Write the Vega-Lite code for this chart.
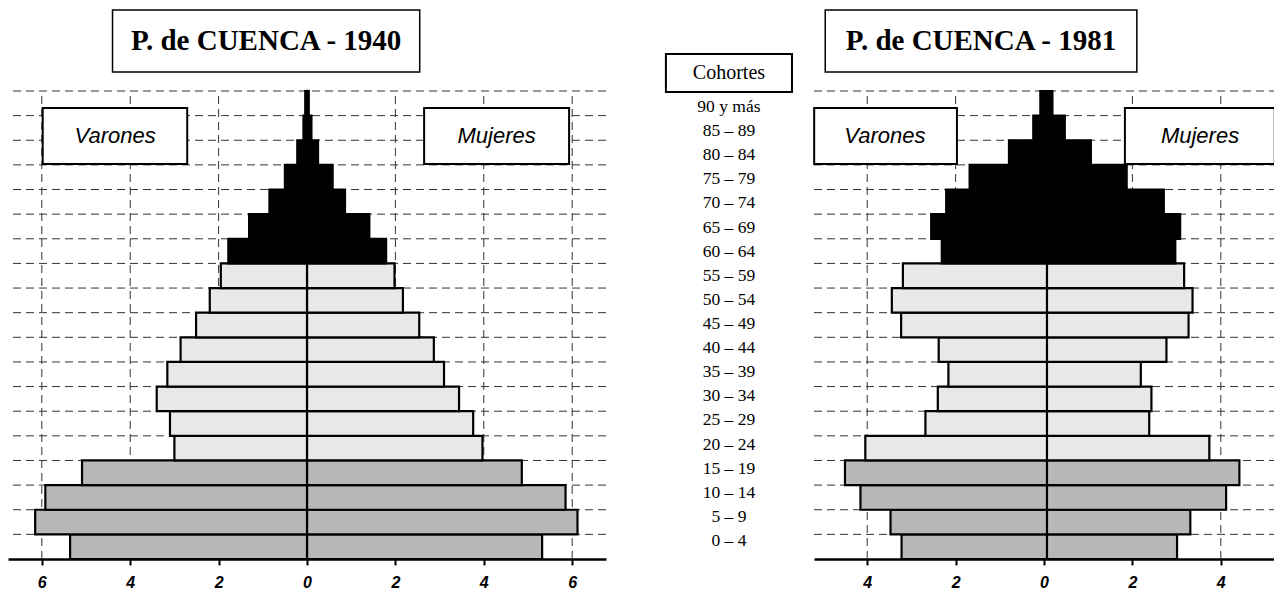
{
  "$schema": "https://vega.github.io/schema/vega-lite/v6.json",
  "background": "white",
  "padding": {"left": 7, "top": 0, "right": 0, "bottom": 0},
  "spacing": 0,
  "config": {
    "view": {"stroke": null},
    "concat": {"spacing": 0}
  },
  "datasets": {
    "p1940": [
      {"cohorte": "0 – 4", "edad_min": 0, "edad_max": 5, "grupo": "0–19", "varones": 5.36, "mujeres": 5.32},
      {"cohorte": "5 – 9", "edad_min": 5, "edad_max": 10, "grupo": "0–19", "varones": 6.15, "mujeres": 6.12},
      {"cohorte": "10 – 14", "edad_min": 10, "edad_max": 15, "grupo": "0–19", "varones": 5.92, "mujeres": 5.85},
      {"cohorte": "15 – 19", "edad_min": 15, "edad_max": 20, "grupo": "0–19", "varones": 5.09, "mujeres": 4.86},
      {"cohorte": "20 – 24", "edad_min": 20, "edad_max": 25, "grupo": "20–59", "varones": 3.0, "mujeres": 3.97},
      {"cohorte": "25 – 29", "edad_min": 25, "edad_max": 30, "grupo": "20–59", "varones": 3.1, "mujeres": 3.76},
      {"cohorte": "30 – 34", "edad_min": 30, "edad_max": 35, "grupo": "20–59", "varones": 3.4, "mujeres": 3.44},
      {"cohorte": "35 – 39", "edad_min": 35, "edad_max": 40, "grupo": "20–59", "varones": 3.16, "mujeres": 3.1},
      {"cohorte": "40 – 44", "edad_min": 40, "edad_max": 45, "grupo": "20–59", "varones": 2.86, "mujeres": 2.87},
      {"cohorte": "45 – 49", "edad_min": 45, "edad_max": 50, "grupo": "20–59", "varones": 2.51, "mujeres": 2.54},
      {"cohorte": "50 – 54", "edad_min": 50, "edad_max": 55, "grupo": "20–59", "varones": 2.2, "mujeres": 2.17},
      {"cohorte": "55 – 59", "edad_min": 55, "edad_max": 60, "grupo": "20–59", "varones": 1.95, "mujeres": 1.98},
      {"cohorte": "60 – 64", "edad_min": 60, "edad_max": 65, "grupo": "60 y más", "varones": 1.78, "mujeres": 1.79},
      {"cohorte": "65 – 69", "edad_min": 65, "edad_max": 70, "grupo": "60 y más", "varones": 1.31, "mujeres": 1.41},
      {"cohorte": "70 – 74", "edad_min": 70, "edad_max": 75, "grupo": "60 y más", "varones": 0.85, "mujeres": 0.86},
      {"cohorte": "75 – 79", "edad_min": 75, "edad_max": 80, "grupo": "60 y más", "varones": 0.5, "mujeres": 0.58},
      {"cohorte": "80 – 84", "edad_min": 80, "edad_max": 85, "grupo": "60 y más", "varones": 0.22, "mujeres": 0.25},
      {"cohorte": "85 – 89", "edad_min": 85, "edad_max": 90, "grupo": "60 y más", "varones": 0.08, "mujeres": 0.1},
      {"cohorte": "90 y más", "edad_min": 90, "edad_max": 95, "grupo": "60 y más", "varones": 0.04, "mujeres": 0.04}
    ],
    "p1981": [
      {"cohorte": "0 – 4", "edad_min": 0, "edad_max": 5, "grupo": "0–19", "varones": 3.29, "mujeres": 3.01},
      {"cohorte": "5 – 9", "edad_min": 5, "edad_max": 10, "grupo": "0–19", "varones": 3.54, "mujeres": 3.31},
      {"cohorte": "10 – 14", "edad_min": 10, "edad_max": 15, "grupo": "0–19", "varones": 4.22, "mujeres": 4.12},
      {"cohorte": "15 – 19", "edad_min": 15, "edad_max": 20, "grupo": "0–19", "varones": 4.57, "mujeres": 4.42},
      {"cohorte": "20 – 24", "edad_min": 20, "edad_max": 25, "grupo": "20–59", "varones": 4.11, "mujeres": 3.74},
      {"cohorte": "25 – 29", "edad_min": 25, "edad_max": 30, "grupo": "20–59", "varones": 2.75, "mujeres": 2.38},
      {"cohorte": "30 – 34", "edad_min": 30, "edad_max": 35, "grupo": "20–59", "varones": 2.47, "mujeres": 2.43},
      {"cohorte": "35 – 39", "edad_min": 35, "edad_max": 40, "grupo": "20–59", "varones": 2.23, "mujeres": 2.19},
      {"cohorte": "40 – 44", "edad_min": 40, "edad_max": 45, "grupo": "20–59", "varones": 2.45, "mujeres": 2.77},
      {"cohorte": "45 – 49", "edad_min": 45, "edad_max": 50, "grupo": "20–59", "varones": 3.3, "mujeres": 3.27},
      {"cohorte": "50 – 54", "edad_min": 50, "edad_max": 55, "grupo": "20–59", "varones": 3.51, "mujeres": 3.36},
      {"cohorte": "55 – 59", "edad_min": 55, "edad_max": 60, "grupo": "20–59", "varones": 3.26, "mujeres": 3.17},
      {"cohorte": "60 – 64", "edad_min": 60, "edad_max": 65, "grupo": "60 y más", "varones": 2.38, "mujeres": 2.97},
      {"cohorte": "65 – 69", "edad_min": 65, "edad_max": 70, "grupo": "60 y más", "varones": 2.62, "mujeres": 3.08},
      {"cohorte": "70 – 74", "edad_min": 70, "edad_max": 75, "grupo": "60 y más", "varones": 2.28, "mujeres": 2.71},
      {"cohorte": "75 – 79", "edad_min": 75, "edad_max": 80, "grupo": "60 y más", "varones": 1.75, "mujeres": 1.87},
      {"cohorte": "80 – 84", "edad_min": 80, "edad_max": 85, "grupo": "60 y más", "varones": 0.86, "mujeres": 1.06},
      {"cohorte": "85 – 89", "edad_min": 85, "edad_max": 90, "grupo": "60 y más", "varones": 0.31, "mujeres": 0.47},
      {"cohorte": "90 y más", "edad_min": 90, "edad_max": 95, "grupo": "60 y más", "varones": 0.15, "mujeres": 0.19}
    ]
  },
  "hconcat": [
    {
      "width": 598,
      "height": 559,
      "data": {"name": "p1940"},
      "resolve": {"scale": {"x": "independent"}},
      "layer": [
        {
          "layer": [
            {
              "mark": {"type": "rule", "color": "#333333", "strokeWidth": 1, "strokeDash": [8, 5]},
              "encoding": {
                "y": {"field": "edad_max", "type": "quantitative", "scale": {"domain": [0, 113.47], "nice": false, "zero": false}, "axis": null}
              }
            },
            {
              "data": {"values": [{"v": -6}, {"v": -4}, {"v": -2}, {"v": 2}, {"v": 4}, {"v": 6}]},
              "mark": {"type": "rule", "color": "#333333", "strokeWidth": 1, "strokeDash": [8, 5]},
              "encoding": {
                "x": {"field": "v", "type": "quantitative"},
                "y": {"datum": 0, "type": "quantitative"},
                "y2": {"datum": 95}
              }
            },
            {
              "mark": {"type": "bar", "stroke": "black", "strokeWidth": 2.2},
              "encoding": {
                "x": {
                  "field": "mujeres", "type": "quantitative",
                  "scale": {"domain": [-6.765, 6.765], "nice": false, "zero": false},
                  "axis": {
                    "values": [-6, -4, -2, 0, 2, 4, 6],
                    "labelExpr": "format(abs(datum.value), 'd')",
                    "title": null, "grid": false,
                    "domainColor": "black", "domainWidth": 2.5,
                    "tickColor": "black", "tickWidth": 2, "tickSize": 6,
                    "labelFont": "Liberation Sans", "labelFontStyle": "italic", "labelFontWeight": "bold",
                    "labelFontSize": 16, "labelColor": "black", "labelPadding": 9
                  }
                },
                "x2": {"datum": 0},
                "y": {"field": "edad_min", "type": "quantitative"},
                "y2": {"field": "edad_max"},
                "fill": {
                  "field": "grupo", "type": "nominal",
                  "scale": {"domain": ["0–19", "20–59", "60 y más"], "range": ["#b8b8b8", "#e8e8e8", "#000000"]},
                  "legend": null
                }
              }
            },
            {
              "data": {"values": [{}]},
              "mark": {"type": "rect", "fill": "white", "stroke": "black", "strokeWidth": 2},
              "encoding": {
                "x": {"datum": -5.98, "type": "quantitative"}, "x2": {"datum": -2.71},
                "y": {"datum": 91.55, "type": "quantitative"}, "y2": {"datum": 80.18}
              }
            },
            {
              "data": {"values": [{}]},
              "mark": {"type": "text", "text": "Varones", "font": "Liberation Sans", "fontStyle": "italic", "fontSize": 22, "align": "center", "baseline": "middle", "color": "black"},
              "encoding": {
                "x": {"datum": -4.34, "type": "quantitative"},
                "y": {"datum": 85.86, "type": "quantitative"}
              }
            },
            {
              "data": {"values": [{}]},
              "mark": {"type": "rect", "fill": "white", "stroke": "black", "strokeWidth": 2},
              "encoding": {
                "x": {"datum": 2.65, "type": "quantitative"}, "x2": {"datum": 5.93},
                "y": {"datum": 91.55, "type": "quantitative"}, "y2": {"datum": 80.18}
              }
            },
            {
              "data": {"values": [{}]},
              "mark": {"type": "text", "text": "Mujeres", "font": "Liberation Sans", "fontStyle": "italic", "fontSize": 22, "align": "center", "baseline": "middle", "color": "black"},
              "encoding": {
                "x": {"datum": 4.29, "type": "quantitative"},
                "y": {"datum": 85.86, "type": "quantitative"}
              }
            },
            {
              "data": {"values": [{}]},
              "mark": {"type": "rect", "fill": "white", "stroke": "black", "strokeWidth": 1.5},
              "encoding": {
                "x": {"datum": -4.4, "type": "quantitative"}, "x2": {"datum": 2.55},
                "y": {"datum": 111.44, "type": "quantitative"}, "y2": {"datum": 98.85}
              }
            },
            {
              "data": {"values": [{}]},
              "mark": {"type": "text", "text": "P. de CUENCA - 1940", "font": "Liberation Serif", "fontWeight": "bold", "fontSize": 29, "align": "center", "baseline": "middle", "color": "black"},
              "encoding": {
                "x": {"datum": -0.925, "type": "quantitative"},
                "y": {"datum": 105.15, "type": "quantitative"}
              }
            }
          ]
        },
        {
          "mark": {"type": "bar", "stroke": "black", "strokeWidth": 2.2},
          "encoding": {
            "x": {
              "field": "varones", "type": "quantitative",
              "scale": {"domain": [-6.765, 6.765], "nice": false, "zero": false, "reverse": true},
              "axis": null
            },
            "x2": {"datum": 0},
            "y": {"field": "edad_min", "type": "quantitative"},
            "y2": {"field": "edad_max"},
            "fill": {"field": "grupo", "type": "nominal", "legend": null}
          }
        }
      ]
    },
    {
      "width": 206,
      "height": 559,
      "data": {"name": "p1940"},
      "layer": [
        {
          "data": {"values": [{}]},
          "mark": {"type": "rect", "fill": "white", "stroke": "black", "strokeWidth": 2},
          "encoding": {
            "x": {"datum": 0.286, "type": "quantitative", "scale": {"domain": [0, 1], "nice": false, "zero": false}, "axis": null},
            "x2": {"datum": 0.898},
            "y": {"datum": 101.0, "type": "quantitative", "scale": {"domain": [-3.733, 112.2], "nice": false, "zero": false}, "axis": null},
            "y2": {"datum": 93.11}
          }
        },
        {
          "data": {"values": [{}]},
          "mark": {"type": "text", "text": "Cohortes", "font": "Liberation Serif", "fontSize": 20, "align": "center", "baseline": "middle", "color": "black"},
          "encoding": {
            "x": {"datum": 0.592, "type": "quantitative"},
            "y": {"datum": 97.06, "type": "quantitative"}
          }
        },
        {
          "mark": {"type": "text", "font": "Liberation Serif", "fontSize": 17.5, "align": "center", "baseline": "middle", "color": "black"},
          "encoding": {
            "x": {"datum": 0.592, "type": "quantitative"},
            "y": {"field": "edad_min", "type": "quantitative"},
            "text": {"field": "cohorte"}
          }
        }
      ]
    },
    {
      "width": 463,
      "height": 559,
      "data": {"name": "p1981"},
      "resolve": {"scale": {"x": "independent"}},
      "layer": [
        {
          "layer": [
            {
              "mark": {"type": "rule", "color": "#333333", "strokeWidth": 1, "strokeDash": [8, 5]},
              "encoding": {
                "y": {"field": "edad_max", "type": "quantitative", "scale": {"domain": [0, 113.47], "nice": false, "zero": false}, "axis": null}
              }
            },
            {
              "data": {"values": [{"v": -4}, {"v": -2}, {"v": 2}, {"v": 4}]},
              "mark": {"type": "rule", "color": "#333333", "strokeWidth": 1, "strokeDash": [8, 5]},
              "encoding": {
                "x": {"field": "v", "type": "quantitative"},
                "y": {"datum": 0, "type": "quantitative"},
                "y2": {"datum": 95}
              }
            },
            {
              "mark": {"type": "bar", "stroke": "black", "strokeWidth": 2.2},
              "encoding": {
                "x": {
                  "field": "mujeres", "type": "quantitative",
                  "scale": {"domain": [-5.204, 5.271], "nice": false, "zero": false},
                  "axis": {
                    "values": [-4, -2, 0, 2, 4],
                    "labelExpr": "format(abs(datum.value), 'd')",
                    "title": null, "grid": false,
                    "domainColor": "black", "domainWidth": 2.5,
                    "tickColor": "black", "tickWidth": 2, "tickSize": 6,
                    "labelFont": "Liberation Sans", "labelFontStyle": "italic", "labelFontWeight": "bold",
                    "labelFontSize": 16, "labelColor": "black", "labelPadding": 9
                  }
                },
                "x2": {"datum": 0},
                "y": {"field": "edad_min", "type": "quantitative"},
                "y2": {"field": "edad_max"},
                "fill": {
                  "field": "grupo", "type": "nominal",
                  "scale": {"domain": ["0–19", "20–59", "60 y más"], "range": ["#b8b8b8", "#e8e8e8", "#000000"]},
                  "legend": null
                }
              }
            },
            {
              "data": {"values": [{}]},
              "mark": {"type": "rect", "fill": "white", "stroke": "black", "strokeWidth": 2},
              "encoding": {
                "x": {"datum": -5.2, "type": "quantitative"}, "x2": {"datum": -1.97},
                "y": {"datum": 91.55, "type": "quantitative"}, "y2": {"datum": 80.18}
              }
            },
            {
              "data": {"values": [{}]},
              "mark": {"type": "text", "text": "Varones", "font": "Liberation Sans", "fontStyle": "italic", "fontSize": 22, "align": "center", "baseline": "middle", "color": "black"},
              "encoding": {
                "x": {"datum": -3.6, "type": "quantitative"},
                "y": {"datum": 85.86, "type": "quantitative"}
              }
            },
            {
              "data": {"values": [{}]},
              "mark": {"type": "rect", "fill": "white", "stroke": "black", "strokeWidth": 2},
              "encoding": {
                "x": {"datum": 1.83, "type": "quantitative"}, "x2": {"datum": 5.22},
                "y": {"datum": 91.55, "type": "quantitative"}, "y2": {"datum": 80.18}
              }
            },
            {
              "data": {"values": [{}]},
              "mark": {"type": "text", "text": "Mujeres", "font": "Liberation Sans", "fontStyle": "italic", "fontSize": 22, "align": "center", "baseline": "middle", "color": "black"},
              "encoding": {
                "x": {"datum": 3.53, "type": "quantitative"},
                "y": {"datum": 85.86, "type": "quantitative"}
              }
            },
            {
              "data": {"values": [{}]},
              "mark": {"type": "rect", "fill": "white", "stroke": "black", "strokeWidth": 1.5},
              "encoding": {
                "x": {"datum": -4.95, "type": "quantitative"}, "x2": {"datum": 2.1},
                "y": {"datum": 111.44, "type": "quantitative"}, "y2": {"datum": 98.85}
              }
            },
            {
              "data": {"values": [{}]},
              "mark": {"type": "text", "text": "P. de CUENCA - 1981", "font": "Liberation Serif", "fontWeight": "bold", "fontSize": 29, "align": "center", "baseline": "middle", "color": "black"},
              "encoding": {
                "x": {"datum": -1.425, "type": "quantitative"},
                "y": {"datum": 105.15, "type": "quantitative"}
              }
            }
          ]
        },
        {
          "mark": {"type": "bar", "stroke": "black", "strokeWidth": 2.2},
          "encoding": {
            "x": {
              "field": "varones", "type": "quantitative",
              "scale": {"domain": [-5.204, 5.271], "nice": false, "zero": false, "reverse": true},
              "axis": null
            },
            "x2": {"datum": 0},
            "y": {"field": "edad_min", "type": "quantitative"},
            "y2": {"field": "edad_max"},
            "fill": {"field": "grupo", "type": "nominal", "legend": null}
          }
        }
      ]
    }
  ]
}
